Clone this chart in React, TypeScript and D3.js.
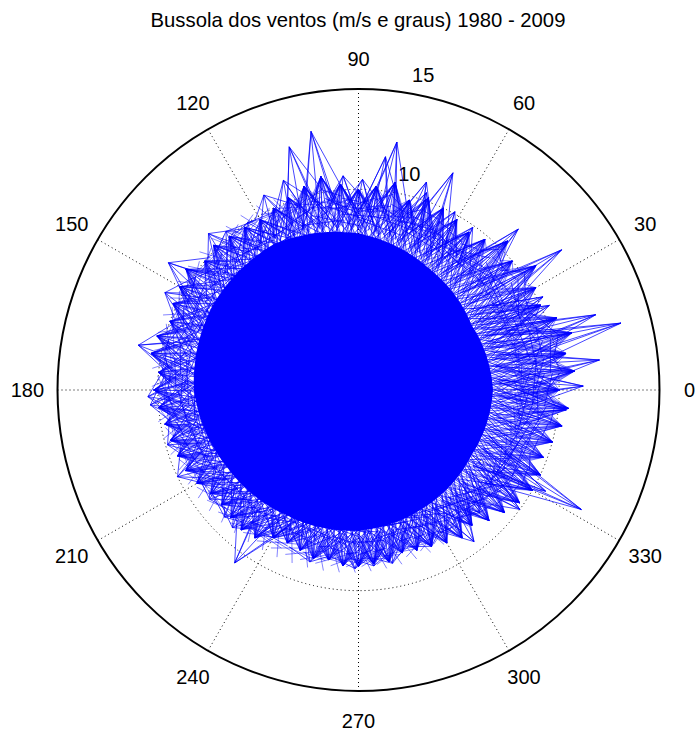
import React from 'react';
import * as d3 from 'd3';

const W = 698;
const H = 733;
const TITLE = 'Bussola dos ventos (m/s e graus) 1980 - 2009';
const angleTicks = [0, 30, 60, 90, 120, 150, 180, 210, 240, 270, 300, 330];
const radialTicks = [5, 10, 15];
const R_MAX = 15;

// extent of the dense (solid) core of readings, m/s by direction (deg)
const coreDir = [0, 30, 60, 90, 120, 150, 180, 210, 240, 270, 300, 330];
const coreSpeed = [7.3, 7.1, 7.6, 8.4, 9.0, 9.0, 8.8, 8.2, 7.8, 7.6, 7.3, 7.1];

// typical reach of the spiky fringe of readings, every 5 degrees
const fringeDir = [
  0, 5, 10, 15, 20, 25, 30, 35, 40, 45, 50, 55, 60, 65, 70, 75, 80, 85,
  90, 95, 100, 105, 110, 115, 120, 125, 130, 135, 140, 145, 150, 155, 160, 165, 170, 175,
  180, 185, 190, 195, 200, 205, 210, 215, 220, 225, 230, 235, 240, 245, 250, 255, 260, 265,
  270, 275, 280, 285, 290, 295, 300, 305, 310, 315, 320, 325, 330, 335, 340, 345, 350, 355,
];
const fringeSpeed = [
  10.0, 10.8, 10.5, 11.0, 10.5, 10.0, 10.2, 10.8, 10.0, 10.5, 9.8, 9.6, 9.8, 10.0, 10.2, 9.8, 10.5, 10.2,
  10.0, 10.3, 10.8, 10.5, 10.2, 10.0, 9.8, 9.9, 10.0, 10.2, 10.0, 10.5, 10.3, 10.2, 10.0, 10.4, 10.5, 10.0,
  10.2, 10.0, 9.8, 9.7, 9.6, 9.5, 9.3, 9.0, 8.9, 9.0, 9.1, 9.0, 8.5, 8.4, 8.5, 8.7, 8.6, 8.8,
  8.8, 8.7, 8.7, 8.4, 8.5, 8.6, 8.8, 9.0, 8.8, 9.2, 9.5, 9.8, 10.0, 10.0, 9.8, 10.0, 10.3, 10.5,
];

// the outstanding gusts (spike tips), direction (deg) and speed (m/s)
const peakDir = [
  1.0, 7.1, 14.3, 17.6, 23.9, 26.8, 34.6, 45.2, 54.9, 61.6, 66.5, 71.0, 71.9, 81.2, 83.4, 88.9,
  94.1, 100.4, 105.9, 109.7, 115.9, 123.5, 129.9, 133.8, 146.2, 153.3, 168.5, 181.8, 184.1, 196.0,
  205.6, 216.3, 223.5, 227.5, 234.4, 240.1, 254.2, 268.9, 275.0, 281.1, 295.1, 307.3, 314.7, 323.5,
  331.6, 331.8, 354.5,
];
const peakSpeed = [
  11.2, 12.1, 13.5, 12.4, 10.4, 10.3, 12.3, 11.3, 9.9, 10.1, 11.8, 10.4, 10.9, 12.5, 11.7, 10.5,
  10.7, 13.1, 12.6, 11.1, 10.8, 10.0, 10.3, 10.8, 11.4, 10.8, 11.2, 10.5, 10.4, 9.9,
  10.0, 9.2, 9.2, 9.3, 10.6, 8.5, 8.9, 8.9, 8.8, 8.8, 8.6, 9.5, 8.6, 10.0,
  10.6, 12.6, 10.4,
];

const CX = 358.5;
const CY = 390;
const R_PX = 301;

export default function App() {
  const r = d3.scaleLinear().domain([0, R_MAX]).range([0, R_PX]);
  const coreScale = d3
    .scaleLinear()
    .domain([...coreDir, 360])
    .range([...coreSpeed, coreSpeed[0]]);
  const coreAt = (a: number) => coreScale(((a % 360) + 360) % 360);
  const pt = (a: number, s: number): [number, number] => {
    const t = (a * Math.PI) / 180;
    return [CX + r(s) * Math.cos(t), CY - r(s) * Math.sin(t)];
  };
  const line = d3.line();

  // core polygon
  const coreAngles = d3.range(0, 360, 2);
  const corePath = d3.line().curve(d3.curveCardinalClosed)(
    coreAngles.map((a) => pt(a, coreAt(a) - 0.6))
  );

  // spiky traces
  const segs: string[] = [];
  const segsLight: string[] = [];
  const offs = [-15, -12, -9, -7, -5, -3, -1.5, 0.5, 2, 3.5, 5, 7, 9, 11, 13, 16];
  const depth = [0.8, 0.92, 0.86, 0.97, 0.83, 0.9, 0.95, 0.85, 1.0, 0.88, 0.93, 0.82, 0.98, 0.87, 0.94, 0.84];
  const n = fringeDir.length;
  fringeDir.forEach((a, i) => {
    const s = fringeSpeed[i];
    const tip = pt(a, s);
    offs.forEach((o, k) => {
      const inner = pt(a + o, coreAt(a + o) * depth[k]);
      (k % 2 ? segs : segsLight).push(line([inner, tip]) as string);
    });
    [1, 2, 3].forEach((j) => {
      const b = fringeDir[(i + j) % n] + (i + j >= n ? 360 : 0);
      const bs = fringeSpeed[(i + j) % n];
      const cs = coreAt(a);
      segsLight.push(line([tip, pt((a + b) / 2, (s + bs) / 2 - 0.7 * j), pt(b, bs)]) as string);
      segs.push(line([pt(a, s - 0.6 * j), pt(b, bs - 0.4 * j - 0.3)]) as string);
      segsLight.push(line([pt(a + 1, cs + 0.4 * j), pt(b - 1, coreAt(b) + 0.5 * (4 - j))]) as string);
    });
  });
  peakDir.forEach((a, i) => {
    const s = peakSpeed[i];
    const tip = pt(a, s);
    [-8, -5, -2.5, 3, 5.5, 9].forEach((o, k) => {
      const inner = pt(a + o, coreAt(a + o) * (k % 2 ? 0.96 : 1.1));
      segs.push(line([inner, tip]) as string);
    });
  });

  const labelR = r(R_MAX * 1.1);
  const c82 = Math.cos((82 * Math.PI) / 180);
  const s82 = Math.sin((82 * Math.PI) / 180);

  return (
    <svg
      width={W}
      height={H}
      style={{ position: 'absolute', left: 0, top: 0, background: '#fff' }}
      fontFamily="'Liberation Sans', Arial, sans-serif"
    >
      <rect x={0} y={0} width={W} height={H} fill="#fff" />
      <text x={358} y={27} fontSize={20.3} textAnchor="middle" fill="#000">
        {TITLE}
      </text>
      {/* spokes */}
      {angleTicks.map((a) => {
        const [x, y] = pt(a, R_MAX);
        return (
          <line
            key={'sp' + a}
            x1={CX}
            y1={CY}
            x2={x}
            y2={y}
            stroke="#000"
            strokeWidth={1}
            strokeDasharray="1 3"
          />
        );
      })}
      {/* circles */}
      {radialTicks.map((t) => (
        <circle
          key={'c' + t}
          cx={CX}
          cy={CY}
          r={r(t)}
          fill="none"
          stroke="#000"
          strokeWidth={t === R_MAX ? 2 : 1}
          strokeDasharray={t === R_MAX ? undefined : '1 3'}
        />
      ))}
      {/* radial tick labels */}
      {radialTicks.map((t) => {
        const rr = r(t + 0.25);
        return (
          <text
            key={'rl' + t}
            x={CX + rr * c82 + 11}
            y={CY - rr * s82 - 5}
            fontSize={20}
            fill="#000"
          >
            {t}
          </text>
        );
      })}
      {/* angle labels */}
      {angleTicks.map((a) => {
        const t = (a * Math.PI) / 180;
        return (
          <text
            key={'al' + a}
            x={CX + labelR * Math.cos(t)}
            y={CY - labelR * Math.sin(t)}
            fontSize={20}
            textAnchor="middle"
            dominantBaseline="central"
            fill="#000"
          >
            {a}
          </text>
        );
      })}
      {/* data */}
      <g>
        <path d={corePath as string} fill="#0000ff" />
        {segsLight.map((d, i) => (
          <path key={'l' + i} d={d} fill="none" stroke="#0000ff" strokeWidth={0.75} strokeOpacity={0.65} />
        ))}
        {segs.map((d, i) => (
          <path key={'s' + i} d={d} fill="none" stroke="#0000ff" strokeWidth={0.85} strokeOpacity={0.85} />
        ))}
      </g>
    </svg>
  );
}
